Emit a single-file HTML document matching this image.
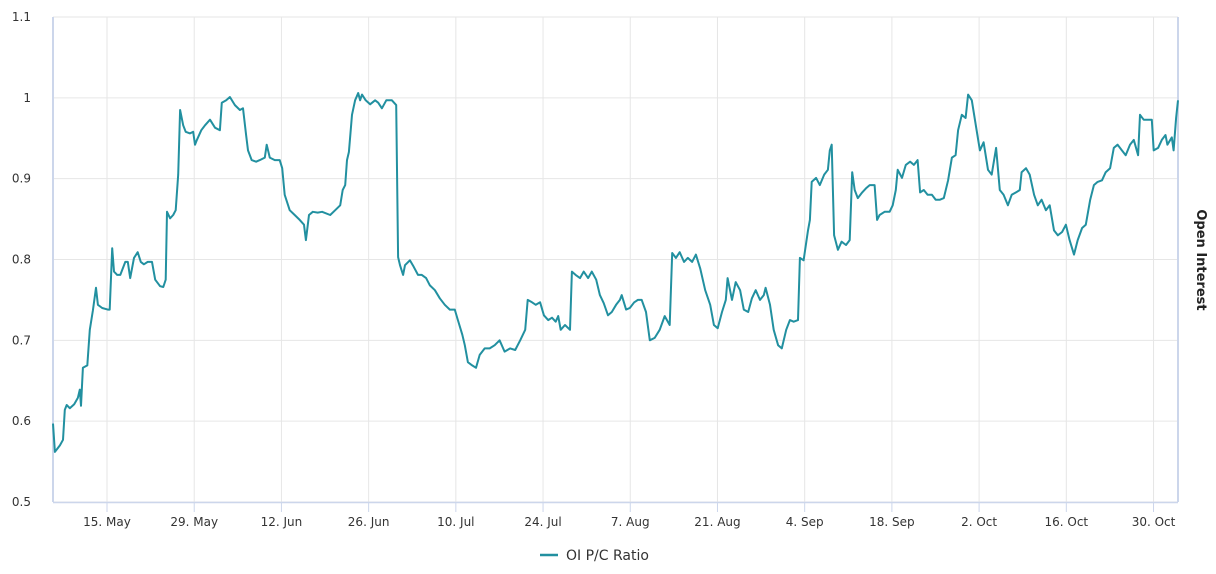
<!DOCTYPE html>
<html><head><meta charset="utf-8"><style>
body{margin:0;background:#fff;font-family:"Liberation Sans",sans-serif}
svg{display:block}
text{font-family:"DejaVu Sans","Liberation Sans",sans-serif;font-size:12px;fill:#333}
</style></head><body>
<svg id="chart" width="1216" height="574">
<g id="grid"></g>
<g id="yaxis"></g>
<g id="xaxis"></g>
<path id="series" fill="none" stroke="#2290a0" stroke-width="2" stroke-linejoin="round"/>
<text x="1197" y="260" transform="rotate(90 1197 260)" text-anchor="middle" style="font-size:13px;font-weight:bold;fill:#222">Open Interest</text>
<g>
<line x1="540" y1="555" x2="558" y2="555" stroke="#2290a0" stroke-width="2.5"/>
<text x="566" y="560" style="font-size:14px;fill:#333">OI P/C Ratio</text>
</g>
</svg>
<script>
const days=[0,0.3,1.1,1.6,1.9,2.2,2.7,3.4,4.0,4.3,4.5,4.8,5.5,5.9,6.4,6.9,7.2,7.9,8.8,9.1,9.5,9.8,10.3,10.8,11.6,12.0,12.4,13.0,13.6,14.1,14.6,15.2,15.9,16.4,17.2,17.7,18.1,18.3,18.8,19.3,19.7,20.1,20.4,20.9,21.3,22.0,22.5,22.8,23.1,23.8,24.4,25.2,26.0,26.8,27.1,27.8,28.4,29.2,30.0,30.5,31.0,31.3,31.9,32.6,33.2,34.0,34.3,34.8,35.6,36.4,36.8,37.2,38.0,38.8,39.6,40.3,40.6,41.1,41.7,42.5,43.2,44.5,45.3,46.1,46.5,46.9,47.2,47.5,48.0,48.5,49.0,49.3,49.6,50.2,50.9,51.7,52.2,52.8,53.5,54.1,54.4,55.1,55.4,55.7,56.2,56.5,57.3,57.9,58.6,59.2,59.9,60.5,61.3,62.1,62.9,63.7,64.5,65.0,65.7,66.1,66.6,67.3,67.9,68.5,69.3,70.1,70.9,71.7,72.5,73.4,74.2,75.0,75.8,76.2,76.9,77.5,78.2,78.8,79.5,80.1,80.7,81.1,81.5,82.2,83.0,83.3,83.9,84.6,85.2,85.9,86.5,87.2,87.8,88.4,89.1,89.7,90.4,91.0,91.3,92.0,92.6,93.3,93.9,94.5,95.2,95.8,96.6,97.4,98.2,99.0,99.4,100.0,100.6,101.3,101.9,102.6,103.2,103.9,104.7,105.5,106.1,106.7,107.4,108.0,108.3,109.0,109.6,110.3,110.9,111.6,112.2,112.8,113.5,114.1,114.4,115.1,115.7,116.4,117.0,117.7,118.3,118.9,119.6,119.9,120.5,121.2,121.5,121.8,122.5,123.1,123.8,124.4,124.7,125.0,125.4,126.0,126.6,127.3,127.9,128.3,128.7,129.2,129.9,130.5,131.1,131.9,132.3,132.7,133.5,134.3,134.8,135.3,135.6,136.3,136.9,137.6,138.2,138.8,139.2,139.8,140.4,141.1,141.7,142.4,143.0,143.7,144.3,144.9,145.3,145.9,146.5,146.9,147.5,148.2,148.8,149.4,150.1,150.7,151.4,152.0,152.6,153.3,153.9,154.6,155.2,155.5,156.2,156.8,157.5,158.1,158.7,159.4,160.0,160.7,161.3,162.0,162.6,163.2,163.9,164.5,165.2,165.8,166.5,167.1,167.7,168.4,169.0,169.7,170.3,170.9,171.6,172.2,172.9,173.5,174.2,174.5,175.1,175.8,176.4,176.7,177.4,178.0,178.6,178.9,179.6,179.9,180.3,180.6];
const ratios=[0.597,0.562,0.570,0.577,0.614,0.620,0.616,0.621,0.629,0.639,0.619,0.666,0.669,0.713,0.737,0.765,0.744,0.740,0.738,0.738,0.814,0.785,0.781,0.781,0.797,0.797,0.777,0.802,0.809,0.797,0.794,0.797,0.797,0.775,0.767,0.766,0.775,0.859,0.851,0.855,0.861,0.905,0.985,0.966,0.958,0.956,0.958,0.942,0.948,0.960,0.966,0.973,0.963,0.960,0.994,0.997,1.001,0.991,0.985,0.987,0.954,0.935,0.923,0.921,0.923,0.926,0.942,0.926,0.923,0.923,0.913,0.880,0.861,0.855,0.849,0.843,0.824,0.855,0.859,0.858,0.859,0.855,0.861,0.867,0.886,0.892,0.923,0.933,0.979,0.997,1.006,0.997,1.004,0.997,0.992,0.997,0.994,0.987,0.997,0.997,0.997,0.991,0.803,0.793,0.781,0.793,0.799,0.791,0.781,0.781,0.777,0.768,0.762,0.752,0.744,0.738,0.738,0.725,0.707,0.694,0.673,0.669,0.666,0.682,0.690,0.690,0.694,0.700,0.686,0.690,0.688,0.700,0.713,0.750,0.747,0.744,0.747,0.731,0.725,0.728,0.723,0.730,0.713,0.719,0.713,0.785,0.781,0.777,0.785,0.777,0.785,0.775,0.756,0.746,0.731,0.735,0.744,0.750,0.756,0.738,0.740,0.747,0.750,0.750,0.735,0.700,0.703,0.713,0.730,0.719,0.808,0.802,0.809,0.797,0.802,0.797,0.806,0.789,0.762,0.744,0.719,0.715,0.735,0.750,0.777,0.750,0.772,0.762,0.738,0.735,0.752,0.762,0.750,0.756,0.765,0.744,0.713,0.694,0.690,0.713,0.725,0.723,0.725,0.802,0.799,0.836,0.849,0.896,0.901,0.892,0.905,0.911,0.935,0.942,0.830,0.812,0.822,0.818,0.824,0.908,0.886,0.876,0.883,0.888,0.892,0.892,0.849,0.855,0.859,0.859,0.867,0.886,0.911,0.901,0.917,0.921,0.917,0.923,0.883,0.886,0.880,0.880,0.874,0.874,0.876,0.898,0.926,0.929,0.960,0.979,0.975,1.004,0.997,0.963,0.935,0.945,0.911,0.905,0.938,0.886,0.880,0.867,0.880,0.883,0.886,0.908,0.913,0.905,0.880,0.867,0.874,0.861,0.867,0.836,0.830,0.834,0.843,0.824,0.806,0.824,0.839,0.843,0.874,0.892,0.896,0.898,0.908,0.913,0.938,0.942,0.935,0.929,0.942,0.948,0.929,0.979,0.973,0.973,0.973,0.935,0.938,0.948,0.954,0.942,0.951,0.935,0.975,0.997];
const yTicks=[0.5,0.6,0.7,0.8,0.9,1,1.1];
const yTickLabels=["0.5","0.6","0.7","0.8","0.9","1","1.1"];
const xTickDays=[8.67,22.67,36.67,50.67,64.67,78.67,92.67,106.67,120.67,134.67,148.67,162.67,176.67];
const xTickLabels=["15. May","29. May","12. Jun","26. Jun","10. Jul","24. Jul","7. Aug","21. Aug","4. Sep","18. Sep","2. Oct","16. Oct","30. Oct"];

const L=53,R=1178,T=17,B=502,dMax=180.6;
const xs=d=>L+d/dMax*(R-L);
const ys=v=>B-(v-0.5)/0.6*(B-T);
const NS="http://www.w3.org/2000/svg";
const grid=document.getElementById('grid'),ya=document.getElementById('yaxis'),xa=document.getElementById('xaxis');
function mk(tag,attrs,parent){const e=document.createElementNS(NS,tag);for(const k in attrs)e.setAttribute(k,attrs[k]);parent.appendChild(e);return e;}
yTicks.forEach((v,i)=>{
  const g=mk('line',{x1:L,x2:R,y1:ys(v),y2:ys(v),stroke:'#e6e6e6','stroke-width':1},grid);
  
  
  const t=mk('text',{x:31,y:ys(v)+4,'text-anchor':'end'},ya);
  t.textContent=yTickLabels[i];
  
  
});
xTickDays.forEach((d,i)=>{
  const g=mk('line',{x1:xs(d),x2:xs(d),y1:T,y2:B,stroke:'#e6e6e6','stroke-width':1},grid);
  
  
  const tk=mk('line',{x1:xs(d),x2:xs(d),y1:B,y2:B+10,stroke:'#ccd6eb','stroke-width':1},xa);
  
  
  const t=mk('text',{x:xs(d),y:B+24,'text-anchor':'middle'},xa);
  t.textContent=xTickLabels[i];
  
  
});
const ax=mk('line',{x1:L,x2:R,y1:B+0.5,y2:B+0.5,stroke:'#ccd6eb','stroke-width':1.5},xa);


const ayl=mk('line',{x1:L,x2:L,y1:T,y2:B,stroke:'#ccd6eb','stroke-width':2},ya);


const ayr=mk('line',{x1:R,x2:R,y1:T,y2:B,stroke:'#ccd6eb','stroke-width':2},ya);


document.getElementById('series').setAttribute('d',days.map((d,i)=>(i?'L':'M')+xs(d).toFixed(1)+','+ys(ratios[i]).toFixed(1)).join(''));
</script>
</body></html>
